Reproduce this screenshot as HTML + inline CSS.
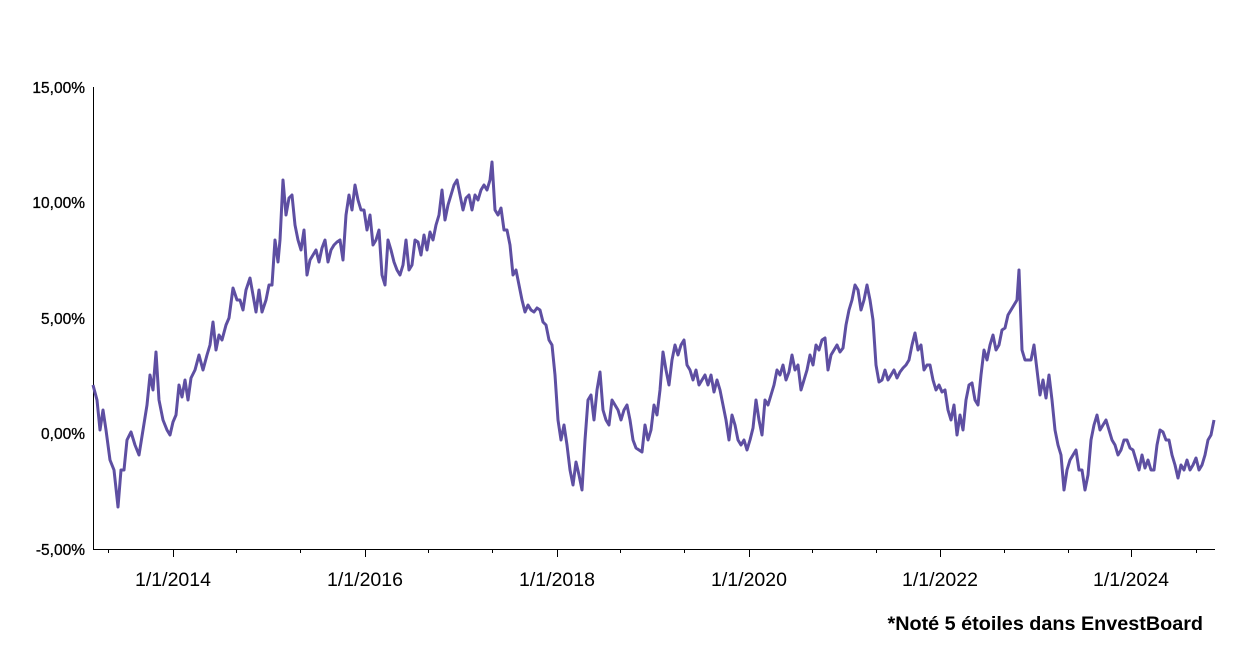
<!DOCTYPE html>
<html><head><meta charset="utf-8"><style>
body{margin:0;background:#fff;}
svg{display:block;font-family:"Liberation Sans",Arial,sans-serif;}
</style></head><body>
<svg width="1249" height="663" viewBox="0 0 1249 663" xmlns="http://www.w3.org/2000/svg">
<g font-size="15.5" text-anchor="end" fill="#000" stroke="#000" stroke-width="0.3">
<text x="85" y="93">15,00%</text>
<text x="85" y="208">10,00%</text>
<text x="85" y="324">5,00%</text>
<text x="85" y="439">0,00%</text>
<text x="85" y="555">-5,00%</text>
</g>
<g stroke="#000" stroke-width="1" fill="none">
<line x1="93.5" y1="87" x2="93.5" y2="549.5"/>
<line x1="93" y1="549.5" x2="1215" y2="549.5"/>
<line x1="173.5" y1="549" x2="173.5" y2="557"/>
<line x1="365.5" y1="549" x2="365.5" y2="557"/>
<line x1="557.5" y1="549" x2="557.5" y2="557"/>
<line x1="749.5" y1="549" x2="749.5" y2="557"/>
<line x1="940.5" y1="549" x2="940.5" y2="557"/>
<line x1="1131.5" y1="549" x2="1131.5" y2="557"/>
<line x1="108.5" y1="549" x2="108.5" y2="553"/>
<line x1="236.5" y1="549" x2="236.5" y2="553"/>
<line x1="300.5" y1="549" x2="300.5" y2="553"/>
<line x1="428.5" y1="549" x2="428.5" y2="553"/>
<line x1="492.5" y1="549" x2="492.5" y2="553"/>
<line x1="620.5" y1="549" x2="620.5" y2="553"/>
<line x1="684.5" y1="549" x2="684.5" y2="553"/>
<line x1="812.5" y1="549" x2="812.5" y2="553"/>
<line x1="876.5" y1="549" x2="876.5" y2="553"/>
<line x1="1004.5" y1="549" x2="1004.5" y2="553"/>
<line x1="1068.5" y1="549" x2="1068.5" y2="553"/>
<line x1="1196.5" y1="549" x2="1196.5" y2="553"/>
</g>
<g font-size="19.5" text-anchor="middle" fill="#000">
<text x="173" y="586">1/1/2014</text>
<text x="365" y="586">1/1/2016</text>
<text x="557" y="586">1/1/2018</text>
<text x="749" y="586">1/1/2020</text>
<text x="940" y="586">1/1/2022</text>
<text x="1131" y="586">1/1/2024</text>
</g>
<text x="1203" y="630" font-size="19.8" font-weight="bold" text-anchor="end">*Noté 5 étoiles dans EnvestBoard</text>
<polyline fill="none" stroke="#5e4fa2" stroke-width="3" stroke-linejoin="round" points="93,385 97,400 100,430 103,410 106,430 110,460 114,470 118,507 121,470 124,470 127,440 131,432 135,445 139,455 143,430 147,405 150,375 153,390 156,352 159,400 163,420 167,430 170,435 173,422 176,415 179,385 182,397 185,380 188,400 191,378 195,370 199,355 203,370 207,355 210,345 213,322 216,350 219,335 222,340 226,325 229,318 233,288 237,300 240,300 243,310 246,290 250,278 253,295 256,312 259,290 262,312 266,300 269,285 272,285 275,240 278,262 280,240 283,180 286,215 289,198 292,195 295,225 298,240 301,250 304,230 307,275 310,260 313,255 316,250 319,262 322,248 325,240 328,262 331,250 334,245 337,242 340,240 343,260 346,215 349,195 352,210 355,185 358,200 361,210 364,210 367,230 370,215 373,245 376,240 379,230 382,275 385,285 388,240 391,250 394,262 397,270 400,275 403,265 406,240 409,270 412,265 415,240 418,242 421,255 424,235 427,250 430,232 433,240 436,225 439,215 442,190 445,220 448,205 451,195 454,185 457,180 460,195 463,210 466,198 469,195 472,210 475,195 478,200 481,190 484,185 487,190 490,180 492,162 495,210 498,215 501,208 504,230 507,230 510,245 513,275 516,270 519,285 522,300 525,312 528,305 531,310 534,312 537,308 540,310 543,322 546,325 549,340 552,345 555,375 558,420 561,440 564,425 567,445 570,470 573,485 576,462 579,475 582,490 585,440 588,400 591,395 594,420 597,390 600,372 603,410 606,420 609,425 612,400 615,405 618,410 621,420 624,410 627,405 630,420 633,440 636,448 639,450 642,452 645,425 648,440 651,430 654,405 657,415 660,390 663,352 666,370 669,385 672,360 675,345 678,355 681,345 684,340 687,365 690,370 693,380 696,370 699,385 702,380 705,375 708,385 711,375 714,392 717,380 720,390 723,405 726,420 729,440 732,415 735,425 738,440 741,445 744,440 747,450 750,440 753,428 756,400 759,420 762,435 765,400 768,405 771,395 774,385 777,370 780,375 783,365 786,380 789,372 792,355 795,370 798,365 801,390 804,380 807,370 810,355 813,365 816,345 819,350 822,340 825,338 828,370 831,355 834,350 837,345 840,352 843,348 846,325 849,310 852,300 855,285 858,290 861,310 864,300 867,285 870,300 873,320 876,365 879,382 882,380 885,370 888,380 891,375 894,370 897,378 900,372 903,368 906,365 909,360 912,345 915,333 918,350 921,345 924,370 927,365 930,365 933,380 936,390 939,385 942,392 945,390 948,410 951,420 954,405 957,435 960,415 963,430 966,400 969,385 972,383 975,400 978,405 981,375 984,350 987,360 990,345 993,335 996,350 999,345 1002,330 1005,328 1008,315 1011,310 1014,305 1017,300 1019,270 1022,350 1025,360 1028,360 1031,360 1034,345 1037,370 1040,395 1043,380 1046,398 1049,375 1052,400 1055,430 1058,445 1061,455 1064,490 1067,470 1070,460 1073,455 1076,450 1079,470 1082,470 1085,490 1088,475 1091,440 1094,425 1097,415 1100,430 1103,425 1106,420 1109,430 1112,440 1115,445 1118,455 1121,450 1124,440 1127,440 1130,448 1133,450 1136,460 1139,470 1142,455 1145,468 1148,460 1151,470 1154,470 1157,445 1160,430 1163,432 1166,440 1169,440 1172,455 1175,465 1178,478 1181,465 1184,470 1187,460 1190,470 1193,465 1196,458 1199,470 1202,465 1205,455 1208,440 1211,435 1214,420"/>
</svg>
</body></html>
